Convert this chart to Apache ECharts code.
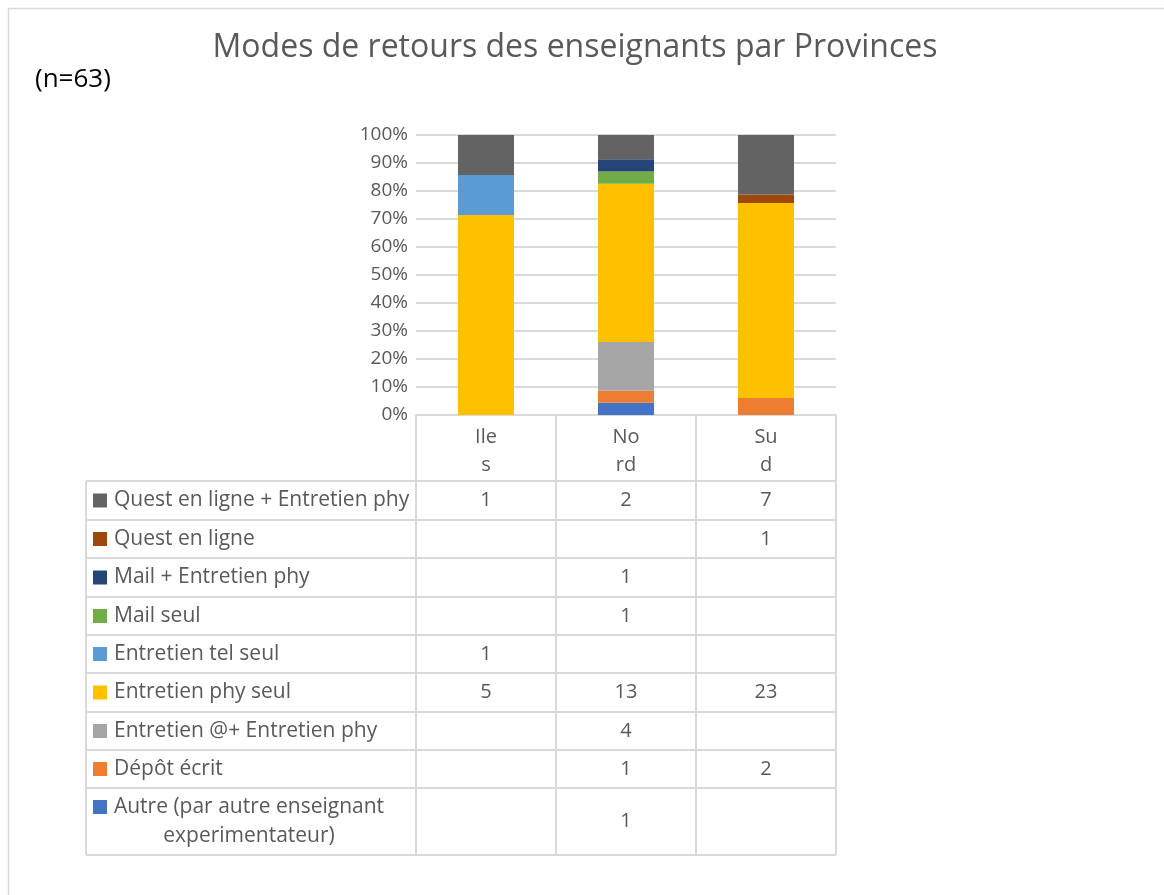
<!DOCTYPE html>
<html><head><meta charset="utf-8">
<script src="https://cdn.jsdelivr.net/npm/echarts@6/dist/echarts.min.js"></script>
<style>html,body{margin:0;padding:0;background:#fff}#c{width:1164px;height:895px}</style>
</head><body><div id="c"></div>
<script>
// ---- data ----
const categories = ["Iles", "Nord", "Sud"];
const categoryTickLabels = ["Ile\ns", "No\nrd", "Su\nd"];
const seriesNames = [
  "Autre (par autre enseignant experimentateur)",
  "Dépôt écrit",
  "Entretien @+ Entretien phy",
  "Entretien phy seul",
  "Entretien tel seul",
  "Mail seul",
  "Mail + Entretien phy",
  "Quest en ligne",
  "Quest en ligne + Entretien phy"
];
const autre      = [null, 1, null];
const depot      = [null, 1, 2];
const entretienAt= [null, 4, null];
const phySeul    = [5, 13, 23];
const telSeul    = [1, null, null];
const mailSeul   = [null, 1, null];
const mailPhy    = [null, 1, null];
const questLigne = [null, null, 1];
const questPhy   = [1, 2, 7];
const yTicks = ["0%","10%","20%","30%","40%","50%","60%","70%","80%","90%","100%"];
const colors = ["#4472C4","#ED7D31","#A5A5A5","#FFC000","#5B9BD5","#70AD47","#264478","#9E480E","#636363"];

const counts = [autre, depot, entretienAt, phySeul, telSeul, mailSeul, mailPhy, questLigne, questPhy];
const totals = categories.map((_, i) => counts.reduce((s, a) => s + (a[i] || 0), 0));

// ---- chart ----
const FONT = "'Open Sans', 'Liberation Sans', Arial, sans-serif";
const TXT = "#595959";
const LINE = "#d9d9d9";
const chart = echarts.init(document.getElementById('c'), null, {renderer: 'canvas'});

const gridL = 416, gridR = 836, gridT = 135, gridB = 415;

const option = {
  animation: false,
  backgroundColor: '#fff',
  title: {
    text: "Modes de retours des enseignants par Provinces",
    left: 570, top: 27, textAlign: 'center',
    textStyle: {fontFamily: FONT, fontSize: 32, fontWeight: 'normal', color: TXT}
  },
  grid: {left: gridL, right: 1164 - gridR, top: gridT, bottom: 895 - gridB, containLabel: false},
  xAxis: {
    type: 'category', data: categories,
    axisTick: {show: false},
    axisLine: {show: true, lineStyle: {color: LINE, width: 2}},
    axisLabel: {
      formatter: (v, i) => categoryTickLabels[i],
      fontFamily: FONT, fontSize: 20, color: TXT, lineHeight: 28, margin: 8
    }
  },
  yAxis: {
    type: 'value', min: 0, max: 100, interval: 10,
    axisLine: {show: false}, axisTick: {show: false},
    axisLabel: {formatter: v => yTicks[Math.round(v / 10)], fontFamily: FONT, fontSize: 19, color: TXT, margin: 8},
    splitLine: {lineStyle: {color: LINE, width: 2}}
  },
  series: counts.map((arr, k) => ({
    name: seriesNames[k], type: 'bar', stack: 'total',
    barWidth: 56,
    itemStyle: {color: colors[k]},
    data: arr.map((v, i) => v == null ? null : v / totals[i] * 100)
  }))
};
chart.setOption(option);

// ---- data table (built from the arrays) ----
const colCenters = categories.map((c, i) => chart.convertToPixel({xAxisIndex: 0}, i));
const colW = colCenters[1] - colCenters[0];
const tblLeft = 86;
const rowBounds = [481, 520, 558, 597, 635, 673, 712, 750, 788, 855];
const g = [];
const ln = (x1, y1, x2, y2) => g.push({type: 'line', shape: {x1, y1, x2, y2}, style: {stroke: LINE, lineWidth: 2}, silent: true});
rowBounds.forEach(y => ln(tblLeft, y, gridR, y));
ln(tblLeft, rowBounds[0], tblLeft, rowBounds[rowBounds.length - 1]);
[gridL].concat(colCenters.map(c => c + colW / 2)).forEach(x => ln(x, gridB, x, rowBounds[rowBounds.length - 1]));
colCenters.forEach(c => ln(c - colW / 2, gridB, c - colW / 2, rowBounds[rowBounds.length - 1]));

const order = counts.map((_, k) => k).reverse();
order.forEach((k, r) => {
  const yTop = rowBounds[r], yBot = rowBounds[r + 1], yc = (yTop + yBot) / 2;
  const name = seriesNames[k];
  if (name.length > 32) {
    g.push({type: 'rect', shape: {x: 93, y: yTop + 12, width: 14, height: 14}, style: {fill: colors[k]}, silent: true});
    const parts = ["Autre (par autre enseignant", "experimentateur)"];
    g.push({type: 'text', x: 249, y: yc, style: {text: parts.join('\n'), fontFamily: FONT, fontSize: 21, fill: TXT, align: 'center', verticalAlign: 'middle', lineHeight: 29}, silent: true});
  } else {
    g.push({type: 'rect', shape: {x: 93, y: yc - 7, width: 14, height: 14}, style: {fill: colors[k]}, silent: true});
    g.push({type: 'text', x: 114, y: yc, style: {text: name, fontFamily: FONT, fontSize: 21, fill: TXT, align: 'left', verticalAlign: 'middle'}, silent: true});
  }
  counts[k].forEach((v, i) => {
    if (v == null) return;
    g.push({type: 'text', x: colCenters[i], y: yc, style: {text: String(v), fontFamily: FONT, fontSize: 20, fill: TXT, align: 'center', verticalAlign: 'middle'}, silent: true});
  });
});
g.push({type: 'rect', shape: {x: 8.5, y: 8.5, width: 1200, height: 1000}, style: {fill: 'none', stroke: LINE, lineWidth: 1.5}, silent: true});
g.push({type: 'text', x: 35, y: 80, style: {text: "(n=63)", fontFamily: FONT, fontSize: 26, fill: '#000', align: 'left', verticalAlign: 'middle'}, silent: true});
chart.setOption({graphic: {elements: g}});
</script></body></html>
